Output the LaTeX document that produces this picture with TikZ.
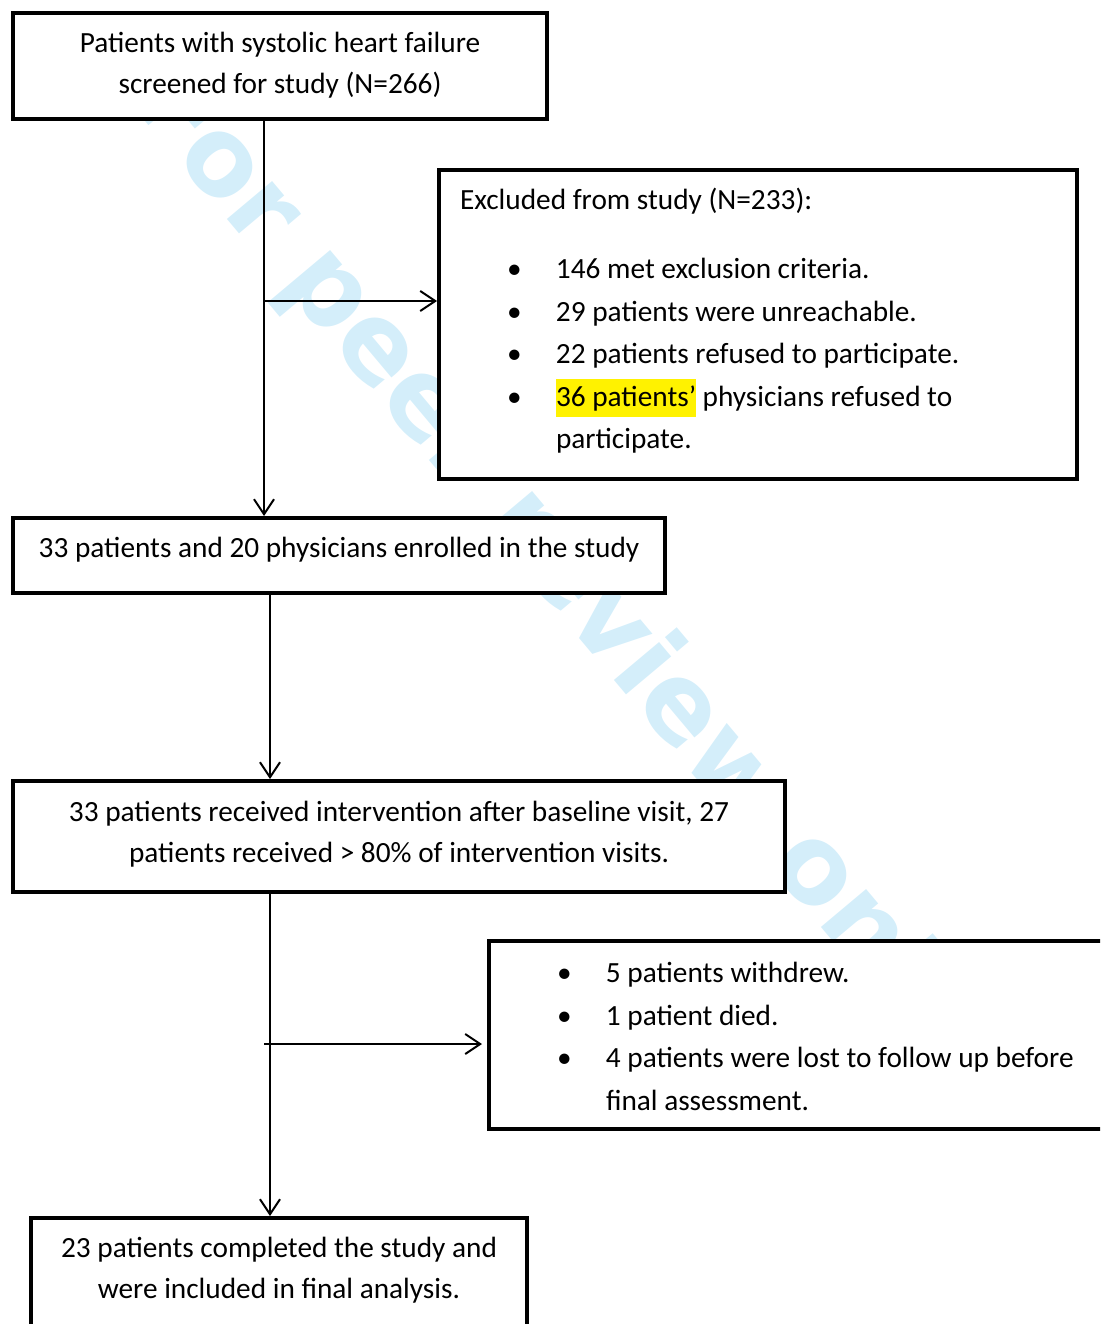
\documentclass[tikz,border=0pt]{standalone}
\usepackage{fontspec}
\setmainfont{Carlito}
\newfontfamily\wmfont{DejaVu Sans}
\usetikzlibrary{arrows.meta}
\definecolor{wmblue}{RGB}{212,238,250}
\setlength{\fboxsep}{0pt}
\newcommand{\bitem}{\hspace*{47pt}\makebox[49pt][l]{\textbullet}}
\newcommand{\bcont}{\hspace*{96pt}}

\begin{document}
\begin{tikzpicture}[x = 1pt, y = -1pt,
        box/.style = {draw = black, fill = white, line width = 4.5pt, outer sep = 0pt, inner ysep = 0pt, anchor = north west, font = \fontsize{29.3}{41}\selectfont},
        centerbox/.style = {box, align = flush center, inner xsep = 10pt},
        listbox/.style = {box, align = flush left, inner xsep = 21pt, font = \fontsize{29.3}{42.5}\selectfont},
        arr/.style = {line width = 2pt, -{Straight Barb[length = 15pt, width = 20pt]}, shorten > = 2pt},
        watermark/.style = {text = wmblue, font = \wmfont\bfseries\fontsize{108}{120}\selectfont, rotate = -50}]
        \useasboundingbox (0,0) rectangle (1100,1324);
        \clip (0,0) rectangle (1100,1324);
        \node[watermark] (wm) at (554,563) {For peer review only};
        \node[centerbox, text width = 514pt, text height = 40pt, text depth = 66pt] (screened) at (13,13)
            {Patients with systolic heart failure\\screened for study (N=266)};
        \node[listbox, text width = 596pt, text height = 39.5pt, text depth = 269.5pt] (excluded) at (439,170)
            {Excluded from study (N=233):\\[27pt]
            \bitem 146 met exclusion criteria.\\
            \bitem 29 patients were unreachable.\\
            \bitem 22 patients refused to participate.\\
            \bitem \colorbox{yellow}{\rule[-10pt]{0pt}{37pt}36 patients’} physicians refused to\\
            \bcont participate.};
        \node[centerbox, text width = 632pt, text height = 39pt, text depth = 36pt] (enrolled) at (13,518)
            {33 patients and 20 physicians enrolled in the study};
        \node[centerbox, text width = 752pt, text height = 40pt, text depth = 71pt] (intervention) at (13,781)
            {33 patients received intervention after baseline visit, 27\\patients received > 80\% of intervention visits.};
        \node[listbox, text width = 599pt, text height = 41.5pt, text depth = 146.5pt] (dropout) at (489,941)
            {\bitem 5 patients withdrew.\\
            \bitem 1 patient died.\\
            \bitem 4 patients were lost to follow up before\\
            \bcont final assessment.};
        \node[centerbox, text width = 476pt, text height = 39pt, text depth = 157pt] (completed) at (31,1218)
            {23 patients completed the study and\\were included in final analysis.};
        \coordinate (trunk1) at (264,0);
        \coordinate (trunk2) at (270,0);
        \coordinate (split1) at (264,301);
        \coordinate (split2) at (264,1044);
        \draw[arr] (screened.south -| trunk1) -- (enrolled.north -| trunk1);
        \draw[arr] (split1) -- (split1 -| excluded.west);
        \draw[arr] (enrolled.south -| trunk2) -- (intervention.north -| trunk2);
        \draw[arr] (intervention.south -| trunk2) -- (completed.north -| trunk2);
        \draw[arr, shorten > = 7pt] (split2) -- (split2 -| dropout.west);
\end{tikzpicture}
\end{document}
